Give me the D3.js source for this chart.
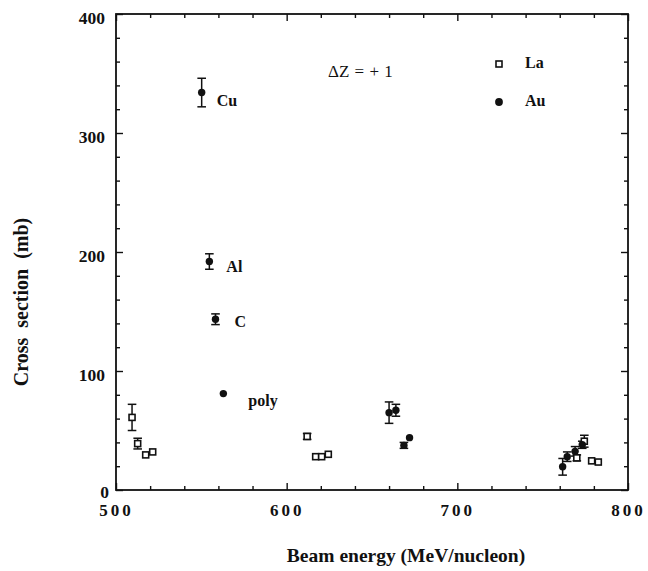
<!DOCTYPE html>
<html>
<head>
<meta charset="utf-8">
<script src="https://cdn.jsdelivr.net/npm/d3@7"></script>
<style>
  html, body { margin: 0; padding: 0; background: #fff; }
  svg { display: block; }
  text { font-family: "Liberation Serif", "Times New Roman", serif; fill: #111; }
</style>
</head>
<body>
<svg id="chart" width="648" height="571"></svg>
<script>
// ---- data ----
const laEnergy = [509.4, 512.7, 517.4, 521.5, 612, 617, 620.5, 624.4, 770, 774.4, 778.7, 782.6];
const laValue  = [61, 39, 29.5, 32, 45, 28, 28, 30, 27, 41, 24.5, 23.5];
const laError  = [11, 4.5, 0, 0, 2.5, 0, 0, 0, 2.5, 5, 0, 0];

const auEnergy = [550.2, 554.7, 558.3, 562.9, 660, 664, 668.7, 672, 761.7, 764.4, 769, 773.2];
const auValue  = [334, 192, 143.5, 81, 65, 67, 37.5, 44, 19.5, 28, 32.5, 38];
const auError  = [12, 6.5, 4.5, 0, 9, 5, 2.5, 0, 7, 4, 4, 3];

const targetNames = ["Cu", "Al", "C", "poly"];   // labels for the first four Au points
const xTickLabels = [500, 600, 700, 800];
const yTickLabels = [0, 100, 200, 300, 400];
const seriesNames = ["La", "Au"];

// ---- layout ----
const svg = d3.select("#chart");
const x = d3.scaleLinear().domain([500, 800]).range([116, 628]);
const y = d3.scaleLinear().domain([0, 400]).range([490, 14]);
const ink = "#111";
const font = '"Liberation Serif", "Times New Roman", serif';

// frame
svg.append("rect")
  .attr("x", x(500)).attr("y", y(400))
  .attr("width", x(800) - x(500)).attr("height", y(0) - y(400))
  .attr("fill", "none").attr("stroke", ink).attr("stroke-width", 1.8);

const minorX = d3.range(520, 800, 20).filter(v => v % 100 !== 0);
const minorY = d3.range(20, 400, 20).filter(v => v % 100 !== 0);

function styleAxis(g) {
  g.select(".domain").remove();
  g.selectAll(".tick line").attr("stroke", ink).attr("stroke-width", 1.4);
}

// bottom axis
svg.append("g").attr("transform", `translate(0,${y(0)})`)
  .call(d3.axisBottom(x).tickValues(minorX).tickSizeInner(-4).tickSizeOuter(0).tickFormat(""))
  .call(styleAxis);
const bx = svg.append("g").attr("transform", `translate(0,${y(0)})`)
  .call(d3.axisBottom(x).tickValues(xTickLabels).tickSizeInner(-7).tickSizeOuter(0).tickPadding(0).tickFormat(d3.format("d")))
  .call(styleAxis);
bx.selectAll("text")
  .attr("y", 26).attr("dy", null)
  .style("font-family", font).style("font-size", "17px").style("font-weight", "bold")
  .style("letter-spacing", "3px").attr("fill", ink);

// top axis
svg.append("g").attr("transform", `translate(0,${y(400)})`)
  .call(d3.axisTop(x).tickValues(minorX).tickSizeInner(-4).tickSizeOuter(0).tickFormat(""))
  .call(styleAxis);
svg.append("g").attr("transform", `translate(0,${y(400)})`)
  .call(d3.axisTop(x).tickValues(xTickLabels).tickSizeInner(-7).tickSizeOuter(0).tickFormat(""))
  .call(styleAxis);

// left axis
svg.append("g").attr("transform", `translate(${x(500)},0)`)
  .call(d3.axisLeft(y).tickValues(minorY).tickSizeInner(-4).tickSizeOuter(0).tickFormat(""))
  .call(styleAxis);
const ly = svg.append("g").attr("transform", `translate(${x(500)},0)`)
  .call(d3.axisLeft(y).tickValues(yTickLabels).tickSizeInner(-7).tickSizeOuter(0).tickPadding(11).tickFormat(d3.format("d")))
  .call(styleAxis);
ly.selectAll("text")
  .attr("dy", d => d === 0 ? "0.4em" : "0.55em")
  .style("font-family", font).style("font-size", "17.5px").style("font-weight", "bold").attr("fill", ink)
  .attr("dx", d => d === 0 ? 4 : 0);

// right axis
svg.append("g").attr("transform", `translate(${x(800)},0)`)
  .call(d3.axisRight(y).tickValues(minorY).tickSizeInner(-4).tickSizeOuter(0).tickFormat(""))
  .call(styleAxis);
svg.append("g").attr("transform", `translate(${x(800)},0)`)
  .call(d3.axisRight(y).tickValues(yTickLabels).tickSizeInner(-7).tickSizeOuter(0).tickFormat(""))
  .call(styleAxis);

// axis titles
svg.append("text")
  .attr("transform", `translate(28,302) rotate(-90)`)
  .attr("text-anchor", "middle")
  .style("font-size", "20px").style("font-weight", "bold").style("word-spacing", "5px")
  .text("Cross section (mb)");
svg.append("text")
  .attr("x", 406).attr("y", 562)
  .attr("text-anchor", "middle")
  .style("font-size", "19.5px").style("font-weight", "bold")
  .text("Beam energy (MeV/nucleon)");

// ---- data marks ----
const la = laEnergy.map((e, i) => ({ e, v: laValue[i], err: laError[i] }));
const au = auEnergy.map((e, i) => ({ e, v: auValue[i], err: auError[i] }));
const capW = 4.3;

function errorBars(data) {
  const g = svg.append("g").attr("stroke", ink).attr("stroke-width", 1.5).attr("fill", "none");
  const d = data.filter(p => p.err > 0);
  g.selectAll("line.v").data(d).join("line")
    .attr("x1", p => x(p.e)).attr("x2", p => x(p.e))
    .attr("y1", p => y(p.v + p.err)).attr("y2", p => y(p.v - p.err));
  g.selectAll("line.t").data(d).join("line")
    .attr("x1", p => x(p.e) - capW).attr("x2", p => x(p.e) + capW)
    .attr("y1", p => y(p.v + p.err)).attr("y2", p => y(p.v + p.err));
  g.selectAll("line.b").data(d).join("line")
    .attr("x1", p => x(p.e) - capW).attr("x2", p => x(p.e) + capW)
    .attr("y1", p => y(p.v - p.err)).attr("y2", p => y(p.v - p.err));
}
errorBars(la);
errorBars(au);

const sq = 6;
svg.append("g").selectAll("rect").data(la).join("rect")
  .attr("x", p => x(p.e) - sq / 2).attr("y", p => y(p.v) - sq / 2)
  .attr("width", sq).attr("height", sq)
  .attr("fill", "#fff").attr("stroke", ink).attr("stroke-width", 1.6);

svg.append("g").selectAll("circle").data(au).join("circle")
  .attr("cx", p => x(p.e)).attr("cy", p => y(p.v)).attr("r", 3.7)
  .attr("fill", ink);

// target labels next to the first four Au points
const labelDx = [15, 17, 19, 25];
const labelDy = [13, 10, 7.5, 12];
svg.append("g").selectAll("text").data(targetNames).join("text")
  .attr("x", (t, i) => x(auEnergy[i]) + labelDx[i])
  .attr("y", (t, i) => y(auValue[i]) + labelDy[i])
  .style("font-size", "16px").style("font-weight", "bold")
  .text(t => t);

// annotation
svg.append("text")
  .attr("x", 328).attr("y", 77)
  .style("font-size", "17px").style("word-spacing", "1px")
  .text("\u0394Z = + 1");

// legend
const leg = svg.append("g");
leg.append("rect").attr("x", 499 - sq / 2).attr("y", 64 - sq / 2).attr("width", sq).attr("height", sq)
  .attr("fill", "#fff").attr("stroke", ink).attr("stroke-width", 1.6);
leg.append("circle").attr("cx", 499).attr("cy", 102).attr("r", 3.9).attr("fill", ink);
leg.selectAll("text").data(seriesNames).join("text")
  .attr("x", 525).attr("y", (t, i) => i === 0 ? 68 : 106)
  .style("font-size", "16px").style("font-weight", "bold")
  .text(t => t);
</script>
</body>
</html>
